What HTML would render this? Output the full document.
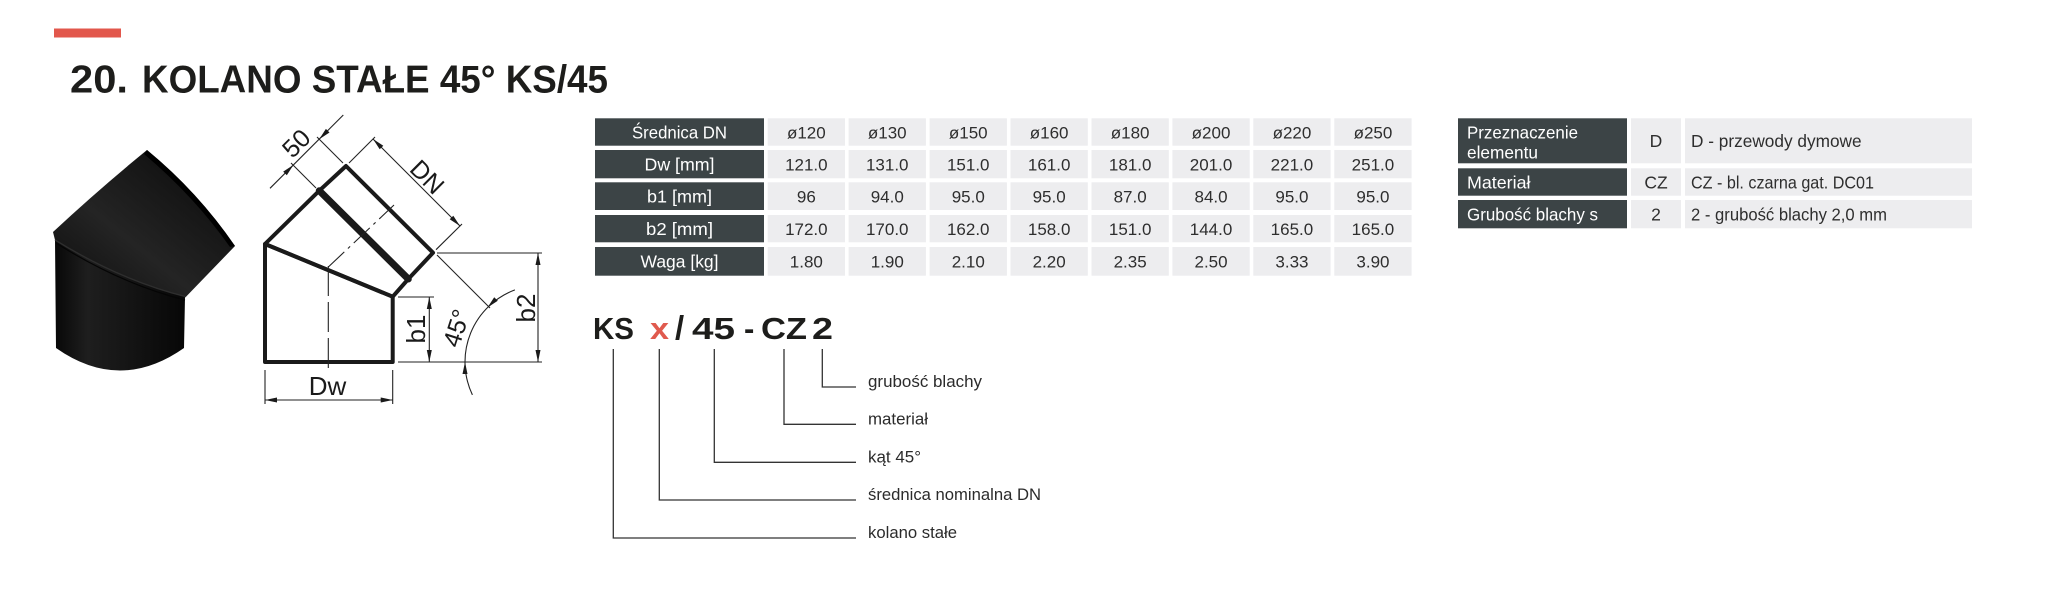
<!DOCTYPE html>
<html>
<head>
<meta charset="utf-8">
<style>
  html, body { margin:0; padding:0; background:#ffffff; }
  body { width:2050px; height:593px; overflow:hidden; position:relative; }
  svg { position:absolute; left:0; top:0; display:block; }
  text { font-family: "Liberation Sans", "DejaVu Sans", sans-serif; }
</style>
</head>
<body>
<svg width="2050" height="593" viewBox="0 0 2050 593" xmlns="http://www.w3.org/2000/svg">
  <defs>
    <linearGradient id="gLow" x1="0" y1="0" x2="1" y2="0">
      <stop offset="0" stop-color="#080808"/>
      <stop offset="0.25" stop-color="#1e1e1e"/>
      <stop offset="0.55" stop-color="#151515"/>
      <stop offset="1" stop-color="#070707"/>
    </linearGradient>
    <linearGradient id="gUp" x1="0" y1="1" x2="1" y2="0">
      <stop offset="0" stop-color="#0c0c0c"/>
      <stop offset="0.4" stop-color="#242424"/>
      <stop offset="0.7" stop-color="#161616"/>
      <stop offset="1" stop-color="#050505"/>
    </linearGradient>
  </defs>

  <!-- red bar + title -->
  <rect x="54" y="28.5" width="67" height="9" fill="#e2574c"/>
  <text x="70" y="92.5" font-size="38.5" font-weight="bold" fill="#1d1d1b" textLength="58" lengthAdjust="spacingAndGlyphs">20.</text>
  <text x="142" y="92.5" font-size="38.5" font-weight="bold" fill="#1d1d1b" textLength="466" lengthAdjust="spacingAndGlyphs">KOLANO STAŁE 45° KS/45</text>

  <!-- photo of elbow -->
  <g>
    <path d="M55,240 L56,348 Q120,393 184,348 L185,296.7 Q120.85,280.5 55,240 Z" fill="url(#gLow)"/>
    <path d="M53,232 Q98,190 147,150 Q198,192 235,246 L186,296.7 Q120.85,280.5 55,240 Z" fill="url(#gUp)"/>
    <path d="M147,150 Q198,192 235,246 L230,247 Q194,196 144,154 Z" fill="#000"/>
    <path d="M55,240 Q120.85,280.5 186,296.7" fill="none" stroke="#2e2e2e" stroke-width="1.4"/>
    <path d="M56,243 Q120.85,284 185,300" fill="none" stroke="#050505" stroke-width="1.2"/>
  </g>

  <!-- technical drawing -->
  <g fill="none" stroke="#1a1a1a" stroke-width="4" stroke-linejoin="round" stroke-linecap="round">
    <polygon points="265,244 265,362 392.7,362 392.7,296.7"/>
    <polygon points="265,244 319.3,190.7 408.3,279 392.7,296.7"/>
    <polyline points="319.3,190.7 346,166 433,252.7 408.3,279"/>
    <line x1="319.3" y1="190.7" x2="408.3" y2="279" stroke-width="7"/>
  </g>
  <g fill="none" stroke="#222" stroke-width="1.1">
    <line x1="328.3" y1="266" x2="328.3" y2="368" stroke-dasharray="30,6"/>
    <line x1="328.3" y1="267" x2="394" y2="205" stroke-dasharray="22,5,3,5"/>
    <line x1="265" y1="370" x2="265" y2="404"/>
    <line x1="392.7" y1="370" x2="392.7" y2="404"/>
    <line x1="265" y1="400" x2="392.7" y2="400"/>
    <line x1="398" y1="297" x2="434" y2="297"/>
    <line x1="429.3" y1="297" x2="429.3" y2="362"/>
    <line x1="398" y1="362" x2="542" y2="362"/>
    <line x1="437" y1="253" x2="542" y2="253"/>
    <line x1="538" y1="253" x2="538" y2="362"/>
    <line x1="349" y1="163" x2="375" y2="137"/>
    <line x1="436" y1="249.7" x2="462" y2="224"/>
    <line x1="373" y1="139" x2="460" y2="226"/>
    <line x1="316" y1="188" x2="291" y2="163"/>
    <line x1="343" y1="163" x2="317" y2="137"/>
    <line x1="270" y1="188.3" x2="343.3" y2="115"/>
    <line x1="437" y1="255" x2="490" y2="308"/>
    <path d="M472.4,394.9 A77,77 0 0 1 514.9,289.9"/>
  </g>
  <g fill="#1a1a1a" stroke="none">
    <polygon points="265,400 277,397.5 277,402.5"/>
    <polygon points="392.7,400 380.7,397.5 380.7,402.5"/>
    <polygon points="429.3,297 426.8,309 431.8,309"/>
    <polygon points="429.3,362 426.8,350 431.8,350"/>
    <polygon points="538,253 535.5,265 540.5,265"/>
    <polygon points="538,362 535.5,350 540.5,350"/>
    <polygon points="373,139 383.3,145.7 379.7,149.3"/>
    <polygon points="460,226 453.3,215.7 449.7,219.3"/>
    <polygon points="293.5,164.9 286.8,175.2 283.2,171.6"/>
    <polygon points="319.2,139.2 329.5,132.5 325.9,128.9"/>
    <polygon points="487.5,307.5 497.8,300.8 494.2,297.2"/>
    <polygon points="465,362 462.5,374 467.5,374"/>
  </g>
  <g fill="#1a1a1a" font-size="26">
    <text x="327.5" y="395" text-anchor="middle">Dw</text>
    <text transform="translate(425,329) rotate(-90)" text-anchor="middle">b1</text>
    <text transform="translate(535,308) rotate(-90)" text-anchor="middle">b2</text>
    <text transform="translate(456,328) rotate(-72)" text-anchor="middle" dy="9" font-size="25">45°</text>
    <text transform="translate(427.5,176.7) rotate(45)" text-anchor="middle" dy="9" font-size="25">DN</text>
    <text transform="translate(296,143) rotate(-45)" text-anchor="middle" dy="9" font-size="25">50</text>
  </g>

  <!-- left table -->
  <g fill="#3c4446">
    <rect x="595" y="118.3" width="169" height="27.4"/>
    <rect x="595" y="150" width="169" height="28.3"/>
    <rect x="595" y="182.3" width="169" height="27.7"/>
    <rect x="595" y="215" width="169" height="27.3"/>
    <rect x="595" y="247" width="169" height="28.7"/>
  </g>
  <g fill="#ededef">
    <rect x="767.7" y="118.3" width="77.3" height="27.4"/><rect x="848.6" y="118.3" width="77.3" height="27.4"/><rect x="929.6" y="118.3" width="77.3" height="27.4"/><rect x="1010.5" y="118.3" width="77.3" height="27.4"/><rect x="1091.5" y="118.3" width="77.3" height="27.4"/><rect x="1172.4" y="118.3" width="77.3" height="27.4"/><rect x="1253.3" y="118.3" width="77.3" height="27.4"/><rect x="1334.3" y="118.3" width="77.3" height="27.4"/>
    <rect x="767.7" y="150" width="77.3" height="28.3"/><rect x="848.6" y="150" width="77.3" height="28.3"/><rect x="929.6" y="150" width="77.3" height="28.3"/><rect x="1010.5" y="150" width="77.3" height="28.3"/><rect x="1091.5" y="150" width="77.3" height="28.3"/><rect x="1172.4" y="150" width="77.3" height="28.3"/><rect x="1253.3" y="150" width="77.3" height="28.3"/><rect x="1334.3" y="150" width="77.3" height="28.3"/>
    <rect x="767.7" y="182.3" width="77.3" height="27.7"/><rect x="848.6" y="182.3" width="77.3" height="27.7"/><rect x="929.6" y="182.3" width="77.3" height="27.7"/><rect x="1010.5" y="182.3" width="77.3" height="27.7"/><rect x="1091.5" y="182.3" width="77.3" height="27.7"/><rect x="1172.4" y="182.3" width="77.3" height="27.7"/><rect x="1253.3" y="182.3" width="77.3" height="27.7"/><rect x="1334.3" y="182.3" width="77.3" height="27.7"/>
    <rect x="767.7" y="215" width="77.3" height="27.3"/><rect x="848.6" y="215" width="77.3" height="27.3"/><rect x="929.6" y="215" width="77.3" height="27.3"/><rect x="1010.5" y="215" width="77.3" height="27.3"/><rect x="1091.5" y="215" width="77.3" height="27.3"/><rect x="1172.4" y="215" width="77.3" height="27.3"/><rect x="1253.3" y="215" width="77.3" height="27.3"/><rect x="1334.3" y="215" width="77.3" height="27.3"/>
    <rect x="767.7" y="247" width="77.3" height="28.7"/><rect x="848.6" y="247" width="77.3" height="28.7"/><rect x="929.6" y="247" width="77.3" height="28.7"/><rect x="1010.5" y="247" width="77.3" height="28.7"/><rect x="1091.5" y="247" width="77.3" height="28.7"/><rect x="1172.4" y="247" width="77.3" height="28.7"/><rect x="1253.3" y="247" width="77.3" height="28.7"/><rect x="1334.3" y="247" width="77.3" height="28.7"/>
  </g>
  <g fill="#ffffff" font-size="17.5" text-anchor="middle">
    <text x="679.5" y="138.3" textLength="95" lengthAdjust="spacingAndGlyphs">Średnica DN</text>
    <text x="679.5" y="170.5" textLength="70" lengthAdjust="spacingAndGlyphs">Dw [mm]</text>
    <text x="679.5" y="202.5" textLength="65" lengthAdjust="spacingAndGlyphs">b1 [mm]</text>
    <text x="679.5" y="235" textLength="67" lengthAdjust="spacingAndGlyphs">b2 [mm]</text>
    <text x="679.5" y="267.6" textLength="78" lengthAdjust="spacingAndGlyphs">Waga [kg]</text>
  </g>
  <g fill="#2e2e2e" font-size="17" text-anchor="middle">
    <text x="806.35" y="138.3">ø120</text><text x="887.25" y="138.3">ø130</text><text x="968.25" y="138.3">ø150</text><text x="1049.15" y="138.3">ø160</text><text x="1130.15" y="138.3">ø180</text><text x="1211.05" y="138.3">ø200</text><text x="1291.95" y="138.3">ø220</text><text x="1372.95" y="138.3">ø250</text>
    <text x="806.35" y="170.5">121.0</text><text x="887.25" y="170.5">131.0</text><text x="968.25" y="170.5">151.0</text><text x="1049.15" y="170.5">161.0</text><text x="1130.15" y="170.5">181.0</text><text x="1211.05" y="170.5">201.0</text><text x="1291.95" y="170.5">221.0</text><text x="1372.95" y="170.5">251.0</text>
    <text x="806.35" y="202.5">96</text><text x="887.25" y="202.5">94.0</text><text x="968.25" y="202.5">95.0</text><text x="1049.15" y="202.5">95.0</text><text x="1130.15" y="202.5">87.0</text><text x="1211.05" y="202.5">84.0</text><text x="1291.95" y="202.5">95.0</text><text x="1372.95" y="202.5">95.0</text>
    <text x="806.35" y="235">172.0</text><text x="887.25" y="235">170.0</text><text x="968.25" y="235">162.0</text><text x="1049.15" y="235">158.0</text><text x="1130.15" y="235">151.0</text><text x="1211.05" y="235">144.0</text><text x="1291.95" y="235">165.0</text><text x="1372.95" y="235">165.0</text>
    <text x="806.35" y="267.6">1.80</text><text x="887.25" y="267.6">1.90</text><text x="968.25" y="267.6">2.10</text><text x="1049.15" y="267.6">2.20</text><text x="1130.15" y="267.6">2.35</text><text x="1211.05" y="267.6">2.50</text><text x="1291.95" y="267.6">3.33</text><text x="1372.95" y="267.6">3.90</text>
  </g>

  <!-- right table -->
  <g fill="#3c4446">
    <rect x="1458" y="118.3" width="169" height="45"/>
    <rect x="1458" y="168.3" width="169" height="27.4"/>
    <rect x="1458" y="200" width="169" height="28.3"/>
  </g>
  <g fill="#ededef">
    <rect x="1631" y="118.3" width="50" height="45"/>
    <rect x="1631" y="168.3" width="50" height="27.4"/>
    <rect x="1631" y="200" width="50" height="28.3"/>
    <rect x="1685" y="118.3" width="287" height="45"/>
    <rect x="1685" y="168.3" width="287" height="27.4"/>
    <rect x="1685" y="200" width="287" height="28.3"/>
  </g>
  <g fill="#ffffff" font-size="17.5">
    <text x="1467" y="138.3" textLength="111" lengthAdjust="spacingAndGlyphs">Przeznaczenie</text>
    <text x="1467" y="158.5" textLength="71" lengthAdjust="spacingAndGlyphs">elementu</text>
    <text x="1467" y="188.3" textLength="63.5" lengthAdjust="spacingAndGlyphs">Materiał</text>
    <text x="1467" y="220.4" textLength="131" lengthAdjust="spacingAndGlyphs">Grubość blachy s</text>
  </g>
  <g fill="#2e2e2e" font-size="17.5">
    <text x="1656" y="147" text-anchor="middle">D</text>
    <text x="1656" y="188.3" text-anchor="middle">CZ</text>
    <text x="1656" y="220.4" text-anchor="middle">2</text>
    <text x="1691" y="147" textLength="170.6" lengthAdjust="spacingAndGlyphs">D - przewody dymowe</text>
    <text x="1691" y="188.3" textLength="183" lengthAdjust="spacingAndGlyphs">CZ - bl. czarna gat. DC01</text>
    <text x="1691" y="220.4" textLength="196" lengthAdjust="spacingAndGlyphs">2 - grubość blachy 2,0 mm</text>
  </g>

  <!-- code diagram -->
  <g font-size="31" font-weight="bold" fill="#1d1d1b">
    <text x="593" y="339" textLength="41" lengthAdjust="spacingAndGlyphs">KS</text>
    <text x="650" y="339" fill="#e05a4e" textLength="19" lengthAdjust="spacingAndGlyphs">x</text>
    <text x="675" y="339" font-size="33">/</text>
    <text x="692" y="339" textLength="43" lengthAdjust="spacingAndGlyphs">45</text>
    <text x="744" y="339">-</text>
    <text x="761" y="339" textLength="46" lengthAdjust="spacingAndGlyphs">CZ</text>
    <text x="812" y="339" textLength="21" lengthAdjust="spacingAndGlyphs">2</text>
  </g>
  <g fill="none" stroke="#333" stroke-width="1.3">
    <polyline points="613.3,349 613.3,538 856,538"/>
    <polyline points="659.3,349 659.3,500 856,500"/>
    <polyline points="714.3,349 714.3,462.3 856,462.3"/>
    <polyline points="784,349 784,424.3 856,424.3"/>
    <polyline points="822.3,349 822.3,387 856,387"/>
  </g>
  <g fill="#2b2b2b" font-size="17">
    <text x="868" y="387" textLength="114" lengthAdjust="spacingAndGlyphs">grubość blachy</text>
    <text x="868" y="424.5" textLength="60" lengthAdjust="spacingAndGlyphs">materiał</text>
    <text x="868" y="462.3" textLength="53" lengthAdjust="spacingAndGlyphs">kąt 45°</text>
    <text x="868" y="500" textLength="173" lengthAdjust="spacingAndGlyphs">średnica nominalna DN</text>
    <text x="868" y="538" textLength="89" lengthAdjust="spacingAndGlyphs">kolano stałe</text>
  </g>
</svg>
</body>
</html>
